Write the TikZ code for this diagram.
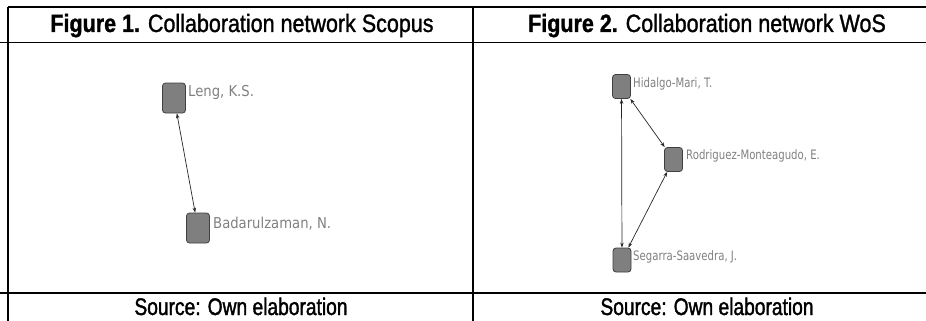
\documentclass[tikz,border=0pt]{standalone}
\usepackage{fontspec}
\setmainfont{Liberation Sans}
\newfontfamily\headfont[FakeStretch=0.86,FakeBold=1.2]{Liberation Sans}
\newfontfamily\srcfont[FakeStretch=0.80,FakeBold=1.5]{Liberation Sans}
\newfontfamily\labL[FakeStretch=0.88]{DejaVu Sans}
\newfontfamily\labR[FakeStretch=0.78]{DejaVu Sans}
\usetikzlibrary{arrows.meta}
\definecolor{nodefill}{HTML}{7F7F7F}
\definecolor{nodeedge}{HTML}{404040}
\definecolor{labgray}{HTML}{808080}
\tikzset{
  tabline/.style={line width=1.3pt, black},
  authorL/.style={rectangle, rounded corners=3pt, fill=nodefill, draw=nodeedge, line width=0.8pt, inner sep=0pt, minimum width=23pt, minimum height=30pt},
  authorR/.style={rectangle, rounded corners=3pt, fill=nodefill, draw=nodeedge, line width=0.8pt, inner sep=0pt, minimum width=18pt, minimum height=24pt},
  nameL/.style={anchor=base west, inner sep=0pt, text=labgray, font=\labL\fontsize{15}{17}\selectfont},
  nameR/.style={anchor=base west, inner sep=0pt, text=labgray, font=\labR\fontsize{13}{15}\selectfont},
  link/.style={line width=0.7pt, black!85, {Stealth[length=5pt,width=3.5pt]}-{Stealth[length=5pt,width=3.5pt]}},
  headtxt/.style={inner sep=0pt, anchor=base, font=\headfont\fontsize{25}{28}\selectfont},
  srctxt/.style={inner sep=0pt, anchor=base, font=\srcfont\fontsize{24}{27}\selectfont},
}
\begin{document}
\begin{tikzpicture}[x=1pt,y=-1pt]
\useasboundingbox (0,0) rectangle (926,321);
% table rules
\draw[tabline] (8,7) -- (926,7);
\draw[tabline] (0,42.5) -- (926,42.5);
\draw[tabline] (0,293) -- (926,293);
\draw[tabline] (8,7) -- (8,321);
\draw[tabline] (473,7) -- (473,321);
% headers
\node[headtxt] (h1) at (242,32) {\textbf{Figure 1.} Collaboration network Scopus};
\node[headtxt] (h2) at (707,32) {\textbf{Figure 2.} Collaboration network WoS};
\node[srctxt] (s1) at (241,315) {Source: Own elaboration};
\node[srctxt] (s2) at (707,315) {Source: Own elaboration};
% Scopus network
\node[authorL] (leng) at (174,98) {};
\node[authorL] (bad) at (198,228) {};
\node[nameL] (lengl) at (188,96) {Leng, K.S.};
\node[nameL] (badl) at (213,228) {Badarulzaman, N.};
\draw[link] (leng) -- (bad);
% WoS network
\node[authorR] (hid) at (621.5,86.5) {};
\node[authorR] (rod) at (673.5,159.5) {};
\node[authorR] (seg) at (622,260) {};
\node[nameR] (hidl) at (633,87.3) {Hidalgo-Mari, T.};
\node[nameR] (rodl) at (686,159) {Rodriguez-Monteagudo, E.};
\node[nameR] (segl) at (633,260) {Segarra-Saavedra, J.};
\draw[link] (hid) -- (seg);
\draw[link] (hid) -- (rod);
\draw[link] (rod) -- (seg);
\end{tikzpicture}
\end{document}
